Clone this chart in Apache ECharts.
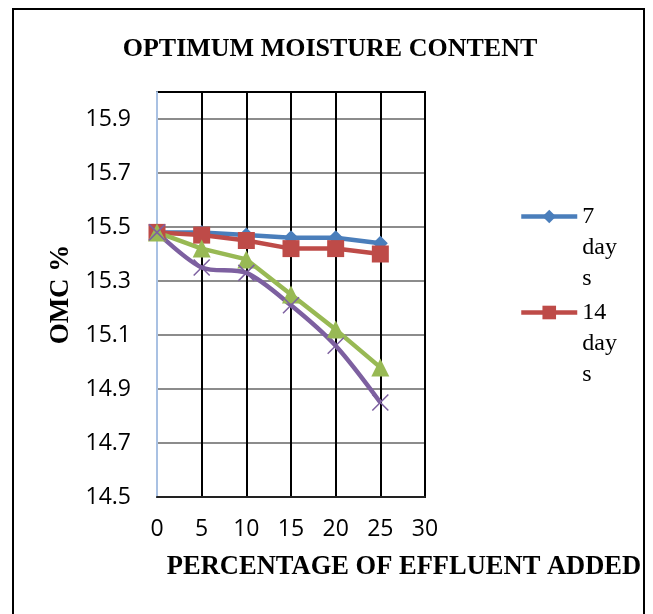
<!DOCTYPE html>
<html>
<head>
<meta charset="utf-8">
<script src="https://cdn.jsdelivr.net/npm/echarts@6/dist/echarts.min.js"></script>
<style>html,body{margin:0;padding:0;background:#fff}#c{width:653px;height:614px}</style>
</head>
<body>
<div id="c"></div>
<script>
const xValues = [0, 5, 10, 15, 20, 25];
const days7  = [15.48, 15.48, 15.47, 15.46, 15.46, 15.44];
const days14 = [15.48, 15.47, 15.45, 15.42, 15.42, 15.40];
const days21 = [15.48, 15.42, 15.38, 15.25, 15.12, 14.98];
const days28 = [15.48, 15.35, 15.33, 15.21, 15.06, 14.85];
const yTicks = [14.5, 14.7, 14.9, 15.1, 15.3, 15.5, 15.7, 15.9];
const seriesNames = ['7 days', '14 days', '21 days', '28 days'];

const pair = arr => xValues.map((x, i) => [x, arr[i]]);
const serif = 'Liberation Serif';
const sans = 'Open Sans';

const chart = echarts.init(document.getElementById('c'));
const legendBase = {
  orient: 'vertical', left: 519, padding: 0,
  itemWidth: 56, itemHeight: 17, itemGap: 0,
  lineStyle: { width: 4.5 },
  textStyle: { fontFamily: serif, fontSize: 24, color: '#000', lineHeight: 31 },
  formatter: n => '\n\n' + n.replace(' ', '\n').replace('days', 'day\ns')
};
chart.setOption({
  animation: false,
  title: {
    text: 'OPTIMUM MOISTURE CONTENT', left: 325, top: 31, textAlign: 'center',
    textStyle: { fontFamily: serif, fontWeight: 'bold', fontSize: 26, color: '#000' }
  },
  graphic: [{
    type: 'rect', shape: { x: 13, y: 9, width: 631, height: 700 },
    style: { fill: 'none', stroke: '#000', lineWidth: 2 }, silent: true
  }],
  legend: [
    Object.assign({ data: [seriesNames[0]], top: 139 }, legendBase),
    Object.assign({ data: [seriesNames[1]], top: 235 }, legendBase)
  ],
  grid: { left: 157, right: 228, top: 92, bottom: 117, show: true, borderColor: '#000', borderWidth: 2 },
  xAxis: {
    type: 'value', min: 0, max: 30, interval: 5,
    name: 'PERCENTAGE OF EFFLUENT ADDED', nameLocation: 'middle', nameGap: 57,
    nameTextStyle: { fontFamily: serif, fontWeight: 'bold', fontSize: 26.5, color: '#000', padding: [0, 0, 0, 226] },
    axisLine: { lineStyle: { color: '#222', width: 2 } },
    axisTick: { show: false },
    axisLabel: { fontFamily: sans, fontSize: 23, color: '#000', margin: 21 },
    splitLine: { show: true, lineStyle: { color: '#000', width: 2 } }
  },
  yAxis: {
    type: 'value', min: 14.5, max: 16.0,
    name: 'OMC %', nameLocation: 'middle', nameGap: 82, nameRotate: 90,
    nameTextStyle: { fontFamily: serif, fontWeight: 'bold', fontSize: 27, color: '#000' },
    axisLine: { show: true, lineStyle: { color: '#A9C1E3', width: 2 } },
    axisTick: { show: false, customValues: yTicks },
    axisLabel: { customValues: yTicks, fontFamily: sans, fontSize: 23, color: '#000', margin: 26, formatter: v => v.toFixed(1) },
    splitLine: { show: true, lineStyle: { color: '#8c8c8c', width: 2 } }
  },
  series: [
    { name: seriesNames[0], type: 'line', data: pair(days7), symbol: 'diamond', symbolSize: 15,
      color: '#4A7EBB', lineStyle: { width: 4.5 } },
    { name: seriesNames[1], type: 'line', data: pair(days14), symbol: 'rect', symbolSize: 17,
      color: '#BE4B48', lineStyle: { width: 4.5 } },
    { name: seriesNames[2], type: 'line', data: pair(days21), symbol: 'triangle', symbolSize: 18,
      color: '#98B954', lineStyle: { width: 4.5 } },
    { name: seriesNames[3], type: 'line', data: pair(days28), smooth: 0.3,
      symbol: 'path://M0,0L10,10M10,0L0,10', symbolSize: 16,
      color: '#7D60A0', itemStyle: { borderColor: '#7D60A0', borderWidth: 1.5 }, lineStyle: { width: 4.5 } }
  ]
});
</script>
</body>
</html>
